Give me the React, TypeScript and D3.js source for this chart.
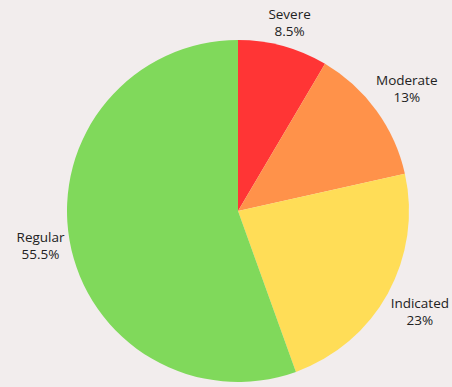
import React from "react";
import * as d3 from "d3";

const categories = ["Severe", "Moderate", "Indicated", "Regular"];
const values = [8.5, 13, 23, 55.5];
const labels = ["8.5%", "13%", "23%", "55.5%"];
const colors = ["#ff3535", "#ff924a", "#ffdd57", "#80d95b"];

const W = 452;
const H = 387;
const cx = 238;
const cy = 211;
const R = 171;
const FS = 13.5;
const FONT = `${FS}px 'Open Sans'`;
const LH = 17;

function measure(t: string): number {
  const c = document.createElement("canvas").getContext("2d");
  if (!c) return t.length * 7;
  c.font = FONT;
  return c.measureText(t).width;
}

export default function App() {
  const pie = d3.pie<number>().sort(null).value((d) => d);
  const arcs = pie(values);
  const arc = d3.arc<d3.PieArcDatum<number>>().innerRadius(0).outerRadius(R);
  return (
    <svg width={W} height={H} style={{ position: "absolute", left: 0, top: 0, background: "#f2eded" }}>
      <rect width={W} height={H} fill="#f2eded" />
      <g transform={`translate(${cx},${cy})`}>
        {arcs.map((a, i) => (
          <path key={i} d={arc(a) || ""} fill={colors[i]} />
        ))}
        {arcs.map((a, i) => {
          const mid = (a.startAngle + a.endAngle) / 2;
          const ux = Math.sin(mid);
          const uy = -Math.cos(mid);
          const w = Math.max(measure(categories[i]), measure(labels[i]));
          const h = 33;
          const ext = Math.abs(ux) * w / 2 + Math.abs(uy) * h / 2;
          const d = R + 3 + ext;
          const x = ux * d;
          const y = uy * d;
          return (
            <g key={i}>
              <text x={x} y={y - 3} textAnchor="middle" fontFamily="'Open Sans', sans-serif" fontSize={FS} fill="#222">
                {categories[i]}
              </text>
              <text x={x} y={y - 3 + LH} textAnchor="middle" fontFamily="'Open Sans', sans-serif" fontSize={FS} fill="#222">
                {labels[i]}
              </text>
            </g>
          );
        })}
      </g>
    </svg>
  );
}
